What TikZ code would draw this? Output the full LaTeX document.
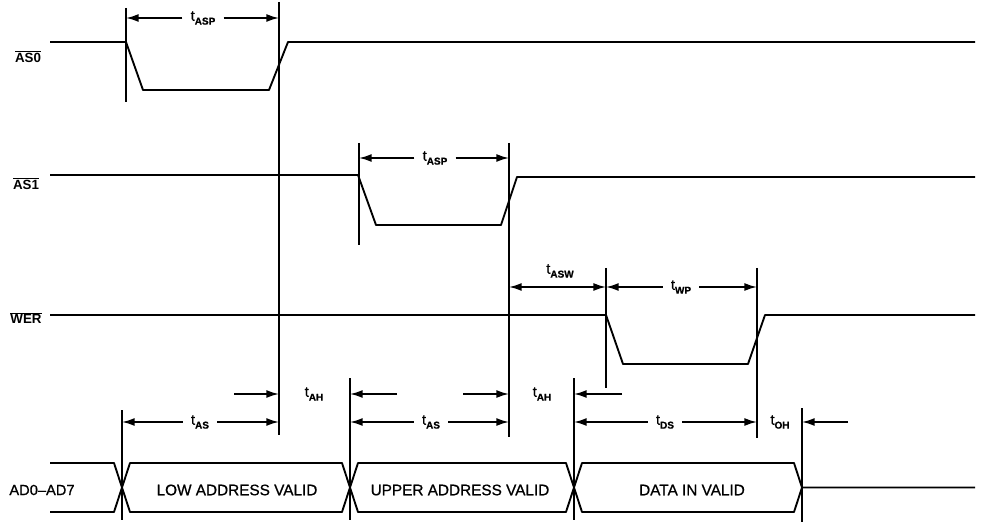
\documentclass[tikz,border=0pt]{standalone}
\usepackage{fontspec}
\setmainfont{Liberation Sans}
\newfontfamily\semibold[FakeBold=0.8,Ligatures=TeX]{Liberation Sans}
\usetikzlibrary{arrows.meta}
\newcommand\tsub[2]{#1\raisebox{-0.5ex}{\fontsize{7.5}{8}\selectfont\bfseries #2}}
\newcommand\ovl[1]{\(\overline{\mbox{#1}}\)}
\begin{document}
\begin{tikzpicture}[x=0.75pt,y=-0.75pt,
  sig/.style={line width=1.4pt, line join=round},
  guide/.style={line width=0.9pt},
  dim/.style={line width=1.3pt},
  tip/.style={-{Latex[length=9.5pt,width=6pt]}},
  both/.style={{Latex[length=9.5pt,width=6pt]}-{Latex[length=9.5pt,width=6pt]}},
  tlabel/.style={font=\fontsize{11}{12}\selectfont\semibold, inner xsep=6pt, inner ysep=1pt},
  sname/.style={font=\fontsize{10}{12}\selectfont\bfseries, inner sep=0pt},
  bus/.style={font=\fontsize{11.5}{13}\selectfont\semibold, inner sep=0pt}]
\useasboundingbox (0,0) rectangle (989,527);

% ---- signal names
\node[sname] (nas0) at (28,57) {\ovl{AS0}};
\node[sname] (nas1) at (26,184) {\ovl{AS1}};
\node[sname] (nwer) at (26,318) {\ovl{WER}};
\node[bus, font=\fontsize{11}{13}\selectfont\semibold] (nad) at (42,490) {AD0–AD7};

% ---- waveforms
\draw[sig] (50,42) -- (126,42) -- (143,90) -- (269,90) -- (288,42) -- (975,42);
\draw[sig] (50,175) -- (358,175) -- (376,225) -- (501,225) -- (517,177) -- (975,177);
\draw[sig] (50,315) -- (606,315) -- (623,364) -- (748,364) -- (765,315) -- (975,315);

% bus
\draw[sig] (50,463) -- (114,463) -- (130,512) -- (342,512) -- (358,463) -- (566,463) -- (582,512) -- (794,512) -- (802,487.5) -- (975,487.5);
\draw[sig] (50,512) -- (114,512) -- (130,463) -- (342,463) -- (358,512) -- (566,512) -- (582,463) -- (794,463) -- (802,487.5);
\node[bus] (low) at (237,490) {LOW ADDRESS VALID};
\node[bus] (upp) at (460,490) {UPPER ADDRESS VALID};
\node[bus] (dat) at (692,490) {DATA IN VALID};

% ---- guide lines
\coordinate (v1t) at (126,8);   \coordinate (v1b) at (126,102);
\coordinate (v2t) at (279,2);   \coordinate (v2b) at (279,435);
\coordinate (v3t) at (359,143); \coordinate (v3b) at (359,245);
\coordinate (v4t) at (509,143); \coordinate (v4b) at (509,437);
\coordinate (v5t) at (606,268); \coordinate (v5b) at (606,388);
\coordinate (v6t) at (757,268); \coordinate (v6b) at (757,438);
\coordinate (v7t) at (122,410); \coordinate (v7b) at (122,520);
\coordinate (v8t) at (350,378); \coordinate (v8b) at (350,520);
\coordinate (v9t) at (574,378); \coordinate (v9b) at (574,520);
\coordinate (v10t) at (802,408); \coordinate (v10b) at (802,522);
\foreach \v in {1,...,10} \draw[guide] (v\v t) -- (v\v b);

% ---- timing dimensions
% tASP (AS0)
\node[tlabel] (asp1) at (203,18) {\tsub{t}{ASP}};
\draw[dim,tip] (asp1.west) -- (asp1.west -| v1t);
\draw[dim,tip] (asp1.east) -- (asp1.east -| v2t);
% tASP (AS1)
\node[tlabel] (asp2) at (435,158) {\tsub{t}{ASP}};
\draw[dim,tip] (asp2.west) -- (asp2.west -| v3t);
\draw[dim,tip] (asp2.east) -- (asp2.east -| v4t);
% tASW
\coordinate (aswl) at (509,287); \coordinate (aswr) at (606,287);
\draw[dim,both] (aswl) -- (aswr);
\node[tlabel] (asw) at (560,271) {\tsub{t}{ASW}};
% tWP
\node[tlabel] (wp) at (681,287) {\tsub{t}{WP}};
\draw[dim,tip] (wp.west) -- (wp.west -| v5t);
\draw[dim,tip] (wp.east) -- (wp.east -| v6t);
% tAH (1)
\node[tlabel] (ah1) at (314,394) {\tsub{t}{AH}};
\coordinate (ah1a) at (234,394); \coordinate (ah1b) at (397,394);
\draw[dim,tip] (ah1a) -- (ah1a -| v2t);
\draw[dim,tip] (ah1b) -- (ah1b -| v8t);
% tAH (2)
\node[tlabel] (ah2) at (542,394) {\tsub{t}{AH}};
\coordinate (ah2a) at (463,394); \coordinate (ah2b) at (622,394);
\draw[dim,tip] (ah2a) -- (ah2a -| v4t);
\draw[dim,tip] (ah2b) -- (ah2b -| v9t);
% tAS (1)
\node[tlabel] (as1) at (200,422) {\tsub{t}{AS}};
\draw[dim,tip] (as1.west) -- (as1.west -| v7t);
\draw[dim,tip] (as1.east) -- (as1.east -| v2t);
% tAS (2)
\node[tlabel] (as2) at (431,422) {\tsub{t}{AS}};
\draw[dim,tip] (as2.west) -- (as2.west -| v8t);
\draw[dim,tip] (as2.east) -- (as2.east -| v4t);
% tDS
\node[tlabel] (ds) at (665,422) {\tsub{t}{DS}};
\draw[dim,tip] (ds.west) -- (ds.west -| v9t);
\draw[dim,tip] (ds.east) -- (ds.east -| v6t);
% tOH
\node[tlabel] (oh) at (780,422) {\tsub{t}{OH}};
\coordinate (oha) at (848,422);
\draw[dim,tip] (oha) -- (oha -| v10t);
\end{tikzpicture}
\end{document}
